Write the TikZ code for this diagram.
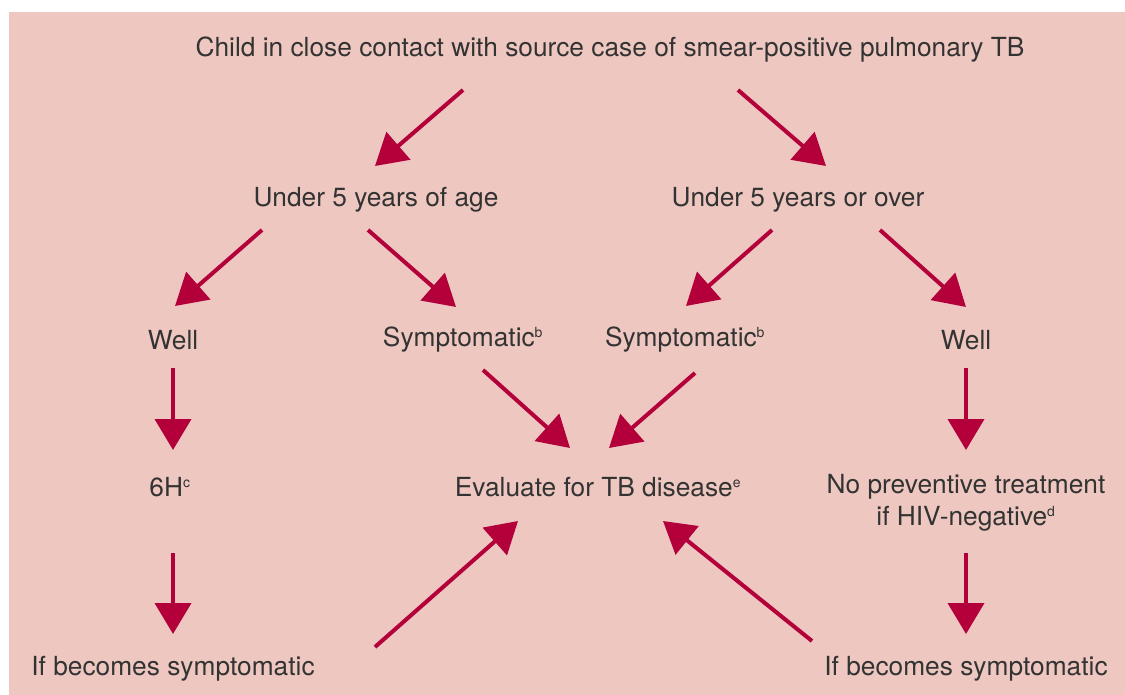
\documentclass[tikz,border=0pt]{standalone}
\usepackage{fontspec}
\setmainfont{TeX Gyre Heros}
\usetikzlibrary{arrows.meta}
\definecolor{bgpink}{HTML}{EEC8C0}
\definecolor{arrred}{HTML}{B3003A}
\definecolor{txt}{HTML}{333333}
\newcommand{\sups}[1]{\textsuperscript{\fontsize{14}{14}\selectfont #1}}
\begin{document}
\begin{tikzpicture}[x=1pt,y=-1pt,
  lbl/.style={text=txt,font=\fontsize{26.3}{32}\selectfont,inner sep=0pt,align=center},
  arr/.style={draw=arrred,line width=4pt,-{Triangle[width=36pt,length=31pt]},fill=arrred}]
\useasboundingbox (0,0) rectangle (1125,695);
\fill[white] (0,0) rectangle (1125,695);
\fill[bgpink] (9,12) rectangle (1125,695);
% nodes
\node[lbl] (top) at (610,50) {Child in close contact with source case of smear-positive pulmonary TB};
\node[lbl] (u5) at (376,200) {Under 5 years of age};
\node[lbl] (o5) at (798,200) {Under 5 years or over};
\node[lbl] (wellL) at (173,340) {Well};
\node[lbl] (sympL) at (463,340) {Symptomatic\sups{b}};
\node[lbl] (sympR) at (685,340) {Symptomatic\sups{b}};
\node[lbl] (wellR) at (966,340) {Well};
\node[lbl] (h6) at (170,487) {6H\sups{c}};
\node[lbl] (eval) at (598,487) {Evaluate for TB disease\sups{e}};
\node[lbl] (nopt) at (966,503) {No preventive treatment\\if HIV-negative\sups{d}};
\node[lbl] (ifL) at (173,669) {If becomes symptomatic};
\node[lbl] (ifR) at (966,669) {If becomes symptomatic};
% arrow end points
\coordinate (a1s) at (463,90);  \coordinate (a1e) at (375,166);
\coordinate (a2s) at (738,90);  \coordinate (a2e) at (826,166);
\coordinate (a3s) at (262,230); \coordinate (a3e) at (175,306);
\coordinate (a4s) at (368,230); \coordinate (a4e) at (456,307);
\coordinate (a5s) at (772,230); \coordinate (a5e) at (686,306);
\coordinate (a6s) at (880,230); \coordinate (a6e) at (966,307);
\coordinate (a7s) at (173,368); \coordinate (a7e) at (173,450);
\coordinate (a8s) at (483,370); \coordinate (a8e) at (570,448);
\coordinate (a9s) at (695,373); \coordinate (a9e) at (609,448);
\coordinate (a10s) at (966,368); \coordinate (a10e) at (966,450);
\coordinate (a11s) at (173,553); \coordinate (a11e) at (173,634);
\coordinate (a12s) at (966,553); \coordinate (a12e) at (966,634);
\coordinate (a13s) at (375,647); \coordinate (a13e) at (518,521);
\coordinate (a14s) at (812,641); \coordinate (a14e) at (663,521);
\foreach \i in {1,...,14} \draw[arr] (a\i s) -- (a\i e);
\end{tikzpicture}
\end{document}
